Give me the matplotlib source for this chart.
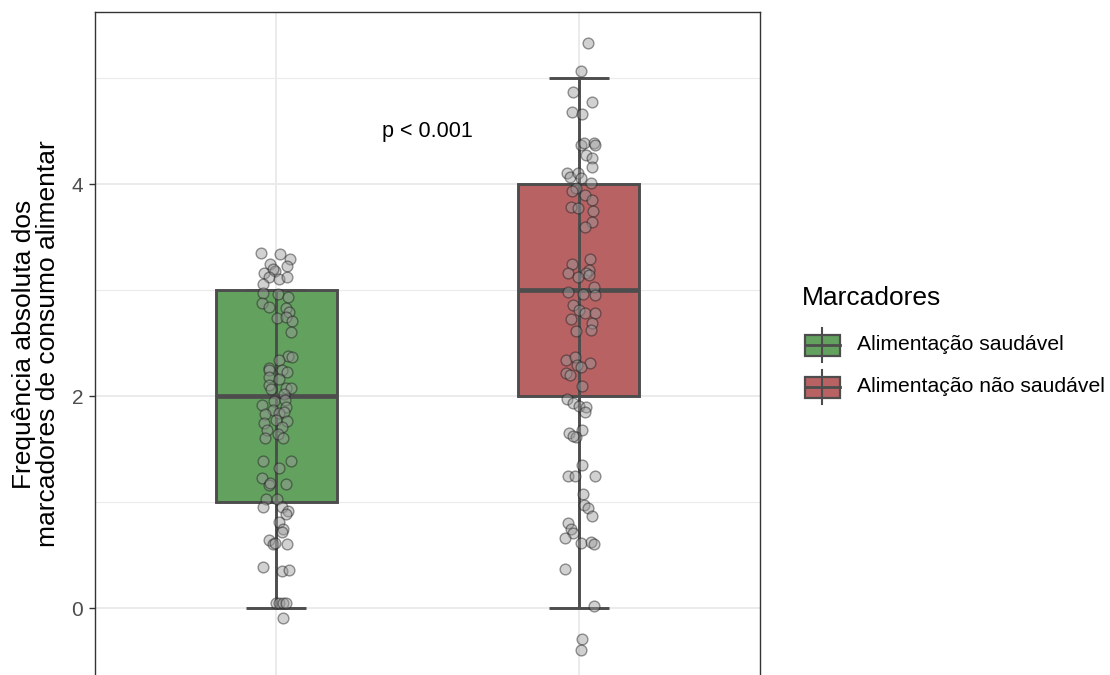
import matplotlib
matplotlib.use("Agg")
import matplotlib.pyplot as plt
from matplotlib.patches import Rectangle

plt.rcParams['font.family'] = ['Liberation Sans', 'DejaVu Sans']

# grupos e estatisticas do boxplot
grupos = ["Alimentação saudável", "Alimentação não saudável"]
cores = ["#63A15F", "#B86264"]
whis_min = [0, 0]
q1 = [1, 2]
mediana = [2, 3]
q3 = [3, 4]
whis_max = [3, 5]

# pontos (jitter): deslocamento em x e valor em y
saud_dx = [-0.050, 0.013, 0.046, -0.020, 0.036, -0.040, -0.003, -0.010, -0.026, 0.010,
           0.036, -0.043, -0.043, 0.007, 0.040, -0.046, -0.026, 0.033, 0.043, 0.003,
           0.033, 0.053, 0.050, 0.040, 0.053, 0.010, -0.026, -0.026, 0.017, 0.036,
           -0.023, 0.010, -0.023, 0.033, 0.050, -0.017, 0.026, -0.046, -0.007, 0.030,
           0.033, -0.010, -0.036, 0.010, 0.026, -0.040, 0.000, 0.036, 0.017, -0.030,
           -0.036, 0.007, 0.023, -0.043, 0.050, 0.010, -0.046, -0.026, -0.020, 0.033,
           -0.033, 0.003, -0.043, 0.020, 0.040, 0.033, 0.010, 0.023, 0.020, -0.023,
           -0.010, -0.003, 0.036, -0.043, 0.017, 0.043, 0.000, 0.010, 0.023, 0.033,
           0.023]
saud_y = [3.35, 3.34, 3.29, 3.25, 3.23, 3.16, 3.18, 3.20, 3.12, 3.10,
          3.12, 3.06, 2.97, 2.96, 2.93, 2.88, 2.84, 2.83, 2.79, 2.74,
          2.75, 2.71, 2.60, 2.38, 2.37, 2.34, 2.26, 2.25, 2.25, 2.23,
          2.18, 2.16, 2.10, 2.08, 2.08, 2.07, 2.02, 1.92, 1.95, 1.96,
          1.90, 1.87, 1.83, 1.84, 1.85, 1.75, 1.77, 1.76, 1.71, 1.68,
          1.60, 1.64, 1.60, 1.39, 1.39, 1.32, 1.23, 1.16, 1.18, 1.17,
          1.03, 1.03, 0.95, 0.95, 0.92, 0.89, 0.81, 0.75, 0.72, 0.64,
          0.60, 0.61, 0.60, 0.39, 0.35, 0.36, 0.05, 0.05, 0.05, 0.05,
          -0.09]

nsaud_dx = [0.030, 0.007, -0.017, 0.043, -0.023, 0.010, 0.007, 0.017, 0.050, 0.053,
            0.026, 0.043, 0.043, -0.040, -0.030, -0.003, 0.007, 0.040, -0.010, -0.023,
            0.020, 0.043, -0.026, -0.003, 0.046, 0.043, 0.020, -0.023, 0.036, 0.033,
            -0.036, 0.023, -0.003, 0.033, -0.036, 0.050, 0.053, 0.013, -0.017, 0.000,
            0.020, 0.053, -0.026, 0.043, -0.010, 0.040, -0.043, -0.013, -0.007, 0.036,
            0.007, -0.043, -0.030, 0.010, -0.040, -0.017, 0.000, 0.023, 0.020, 0.010,
            -0.033, -0.010, -0.017, 0.010, -0.036, -0.013, 0.053, 0.013, 0.017, 0.030,
            0.043, -0.036, -0.026, -0.017, -0.046, 0.007, 0.040, 0.050, -0.046, 0.050,
            0.010, 0.007]
nsaud_y = [5.33, 5.07, 4.87, 4.77, 4.68, 4.66, 4.37, 4.39, 4.39, 4.37,
           4.27, 4.25, 4.16, 4.10, 4.07, 4.10, 4.06, 4.01, 3.96, 3.93,
           3.90, 3.85, 3.78, 3.77, 3.75, 3.64, 3.59, 3.25, 3.29, 3.19,
           3.16, 3.16, 3.12, 3.14, 2.98, 3.03, 2.95, 2.96, 2.86, 2.81,
           2.78, 2.78, 2.73, 2.69, 2.61, 2.62, 2.34, 2.37, 2.29, 2.31,
           2.27, 2.22, 2.20, 2.09, 1.97, 1.93, 1.91, 1.90, 1.85, 1.68,
           1.65, 1.61, 1.62, 1.35, 1.25, 1.25, 1.25, 1.08, 0.97, 0.94,
           0.87, 0.80, 0.75, 0.71, 0.66, 0.61, 0.62, 0.60, 0.37, 0.02,
           -0.29, -0.40]

y_ticks = [0, 2, 4]
y_minor = [1, 3, 5]
p_texto = "p < 0.001"

W, H = 1110, 675
fig = plt.figure(figsize=(W / 100, H / 100), dpi=100)
# painel cortado embaixo, como na figura original
ax = fig.add_axes([95 / W, -65 / H, 665 / W, (728) / H])
ax.set_xlim(0.4, 2.6)
ax.set_ylim(-1.245, 5.623)

escuro = "#4D4D4D"
ax.set_yticks(y_ticks)
ax.set_yticks(y_minor, minor=True)
ax.set_xticks([1, 2])
ax.set_xticklabels([])
ax.grid(True, which="major", color="#EBEBEB", lw=1.4, zorder=0)
ax.grid(True, which="minor", axis="y", color="#EBEBEB", lw=0.8, zorder=0)
ax.set_axisbelow(True)
ax.tick_params(axis="y", which="major", length=4.5, width=1.0, color="#333333",
               labelsize=15, labelcolor=escuro, pad=4)
ax.tick_params(axis="y", which="minor", length=0)
ax.tick_params(axis="x", length=0)
for s in ax.spines.values():
    s.set_color("#333333")
    s.set_linewidth(1.0)

stats = []
for i in range(2):
    stats.append({"whislo": q1[i], "q1": q1[i], "med": mediana[i], "q3": q3[i],
                  "whishi": q3[i], "label": grupos[i]})
bp = ax.bxp(stats, positions=[1, 2], widths=0.4, patch_artist=True,
            showcaps=False, showfliers=False,
            boxprops=dict(edgecolor=escuro, linewidth=2.1),
            medianprops=dict(color=escuro, linewidth=3.4),
            whiskerprops=dict(linewidth=0), manage_ticks=False, zorder=2)
for patch, c in zip(bp["boxes"], cores):
    patch.set_facecolor(c)

# barras de erro (min - max)
for i in range(2):
    ax.errorbar(i + 1, mediana[i],
                yerr=[[mediana[i] - whis_min[i]], [whis_max[i] - mediana[i]]],
                fmt="none", ecolor=escuro, elinewidth=2.1, capsize=21.7,
                capthick=2.1, zorder=3)

ax.scatter([1 + d for d in saud_dx], saud_y, s=60, facecolor="#9A9A9A",
           edgecolor="#1A1A1A", linewidths=1.0, alpha=0.45, zorder=4)
ax.scatter([2 + d for d in nsaud_dx], nsaud_y, s=60, facecolor="#9A9A9A",
           edgecolor="#1A1A1A", linewidths=1.0, alpha=0.45, zorder=4)

ax.text(1.5, 4.5, p_texto, ha="center", va="center", fontsize=15.5, color="black")

fig.text(36 / W, 1 - 344 / H, "Frequência absoluta dos\nmarcadores de consumo alimentar",
         rotation=90, ha="center", va="center", fontsize=19, linespacing=1.0,
         multialignment="center")

# legenda desenhada à mão (estilo ggplot)
lg = fig.add_axes([0, 0, 1, 1])
lg.set_xlim(0, W)
lg.set_ylim(H, 0)
lg.axis("off")
lg.patch.set_alpha(0)
lg.text(802, 298, "Marcadores", ha="left", va="center", fontsize=19)
for i, c in enumerate(cores):
    yc = 345 + i * 42
    lg.plot([822, 822], [yc - 17, yc + 17], color=escuro, lw=1.5)
    lg.add_patch(Rectangle((805, yc - 10.5), 35, 21, facecolor=c, edgecolor=escuro, lw=1.6))
    lg.plot([805, 840], [yc, yc], color=escuro, lw=2.0)
    lg.text(857, yc, grupos[i], ha="left", va="center", fontsize=15.2)

fig.savefig("out.png", dpi=100)
